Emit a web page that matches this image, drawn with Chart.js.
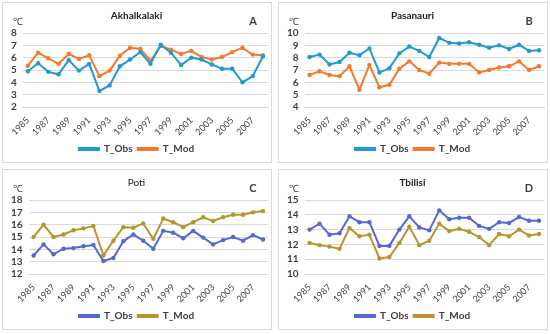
<!DOCTYPE html>
<html>
<head>
<meta charset="utf-8">
<script src="https://cdn.jsdelivr.net/npm/chart.js@4"></script>
<style>
  body { margin: 0; background: #fff; font-family: Lato, "Open Sans", sans-serif; }
  .panel { position: absolute; width: 270px; height: 161px; border: 1px solid #d9d9d9; box-sizing: border-box; }
  .panel canvas { position: absolute; left: 0; top: 0; }
</style>
</head>
<body>
<div class="panel" style="left:2px;top:2px"><canvas id="chartA" width="270" height="161"></canvas></div>
<div class="panel" style="left:278px;top:2px"><canvas id="chartB" width="270" height="161"></canvas></div>
<div class="panel" style="left:2px;top:169px"><canvas id="chartC" width="270" height="161"></canvas></div>
<div class="panel" style="left:278px;top:169px"><canvas id="chartD" width="270" height="161"></canvas></div>
<script>
// years 1985..2008
const years = ['1985','1986','1987','1988','1989','1990','1991','1992','1993','1994','1995','1996',
               '1997','1998','1999','2000','2001','2002','2003','2004','2005','2006','2007','2008'];

const akhalkalakiObs = [4.9, 5.55, 4.85, 4.65, 5.8, 4.95, 5.5, 3.3, 3.75, 5.3, 5.85, 6.45,
                        5.5, 7.05, 6.4, 5.4, 6.0, 5.85, 5.45, 5.1, 5.1, 4.0, 4.5, 6.1];
const akhalkalakiMod = [5.35, 6.4, 5.95, 5.5, 6.3, 5.9, 6.2, 4.5, 4.95, 6.15, 6.8, 6.7,
                        5.75, 6.95, 6.65, 6.3, 6.55, 6.05, 5.85, 6.05, 6.45, 6.8, 6.25, 6.2];

const pasanauriObs = [8.05, 8.25, 7.45, 7.65, 8.4, 8.2, 8.75, 6.8, 7.15, 8.35, 8.9, 8.55,
                      8.05, 9.6, 9.2, 9.15, 9.25, 9.05, 8.8, 9.0, 8.7, 9.05, 8.55, 8.6];
const pasanauriMod = [6.6, 6.9, 6.6, 6.5, 7.3, 5.4, 7.4, 5.6, 5.8, 7.1, 7.7, 7.0,
                      6.7, 7.6, 7.5, 7.5, 7.5, 6.8, 7.0, 7.2, 7.3, 7.7, 7.0, 7.3];

const potiObs = [13.5, 14.4, 13.6, 14.05, 14.1, 14.25, 14.35, 13.05, 13.3, 14.65, 15.2, 14.7,
                 14.05, 15.5, 15.35, 14.9, 15.5, 14.95, 14.4, 14.75, 15.0, 14.7, 15.15, 14.8];
const potiMod = [15.0, 16.0, 15.0, 15.2, 15.55, 15.7, 15.9, 13.5, 14.7, 15.8, 15.75, 16.1,
                 14.85, 16.5, 16.2, 15.8, 16.2, 16.6, 16.3, 16.6, 16.8, 16.8, 17.0, 17.1];

const tbilisiObs = [13.0, 13.4, 12.65, 12.75, 13.9, 13.5, 13.5, 11.9, 11.9, 13.0, 13.9, 13.15,
                    12.95, 14.3, 13.7, 13.8, 13.8, 13.25, 13.05, 13.5, 13.45, 13.85, 13.6, 13.6];
const tbilisiMod = [12.1, 11.95, 11.85, 11.7, 13.1, 12.55, 12.65, 11.05, 11.15, 12.1, 13.2, 11.95,
                    12.25, 13.4, 12.9, 13.05, 12.85, 12.5, 11.95, 12.7, 12.55, 13.0, 12.6, 12.7];

const FONT = 'Lato, "Open Sans", sans-serif';
const TEXT = '#404040';

// draws the °C unit and panel letter
const cornerText = {
    id: 'cornerText',
    afterDraw(chart, args, opts) {
        const ctx = chart.ctx;
        const area = chart.chartArea;
        ctx.save();
        ctx.fillStyle = TEXT;
        ctx.textBaseline = 'middle';
        ctx.font = '10px ' + FONT;
        ctx.textAlign = 'left';
        ctx.fillText('\u2103', 10, area.top - 11);
        ctx.font = 'bold 11px ' + FONT;
        ctx.textAlign = 'center';
        ctx.fillText(opts.letter, chart.width - 20, area.top - 12);
        ctx.restore();
    }
};

function makeChart(id, title, titleBold, letter, obs, mod, obsColor, modColor, yMin, yMax) {
    const ds = (label, data, color) => ({
        label: label,
        data: data,
        borderColor: color,
        backgroundColor: color,
        borderWidth: 2,
        pointRadius: 2.2,
        pointBorderWidth: 0,
        pointBackgroundColor: color,
        tension: 0
    });
    return new Chart(document.getElementById(id), {
        type: 'line',
        data: {
            labels: years,
            datasets: [ds('T_Obs', obs, obsColor), ds('T_Mod', mod, modColor)]
        },
        options: {
            responsive: false,
            animation: false,
            layout: { padding: { left: 2, right: 5, top: 0, bottom: 0 } },
            plugins: {
                title: {
                    display: true,
                    text: title,
                    color: '#222',
                    font: { family: FONT, size: 10, weight: titleBold ? 'bold' : 'normal' },
                    padding: { top: 7, bottom: 11 }
                },
                legend: {
                    position: 'bottom',
                    labels: {
                        color: TEXT,
                        font: { family: FONT, size: 10, weight: 'bold' },
                        boxWidth: 20,
                        boxHeight: 2,
                        padding: 5
                    }
                },
                tooltip: { enabled: false },
                cornerText: { letter: letter }
            },
            scales: {
                x: {
                    offset: true,
                    grid: { display: false },
                    border: { color: '#d9d9d9' },
                    afterFit: (scale) => { scale.height = 32; },
                    ticks: {
                        color: TEXT,
                        font: { family: FONT, size: 9 },
                        minRotation: 45,
                        maxRotation: 45,
                        autoSkip: false,
                        padding: 0,
                        callback: function(value, index) {
                            return index % 2 === 0 ? years[index] : '';
                        }
                    }
                },
                y: {
                    min: yMin,
                    max: yMax,
                    grid: { color: '#d9d9d9', drawTicks: false },
                    border: { display: false },
                    ticks: {
                        stepSize: 1,
                        autoSkip: false,
                        color: TEXT,
                        font: { family: FONT, size: 10, weight: 'bold' },
                        padding: 6
                    }
                }
            }
        },
        plugins: [cornerText]
    });
}

makeChart('chartA', 'Akhalkalaki', true, 'A', akhalkalakiObs, akhalkalakiMod, '#1f9bd1', '#f37a2c', 2, 8);
makeChart('chartB', 'Pasanauri', true, 'B', pasanauriObs, pasanauriMod, '#1f9bd1', '#f37a2c', 4, 10);
makeChart('chartC', 'Poti', false, 'C', potiObs, potiMod, '#5468d4', '#b8952c', 12, 18);
makeChart('chartD', 'Tbilisi', true, 'D', tbilisiObs, tbilisiMod, '#5468d4', '#b8952c', 10, 15);
</script>
</body>
</html>
